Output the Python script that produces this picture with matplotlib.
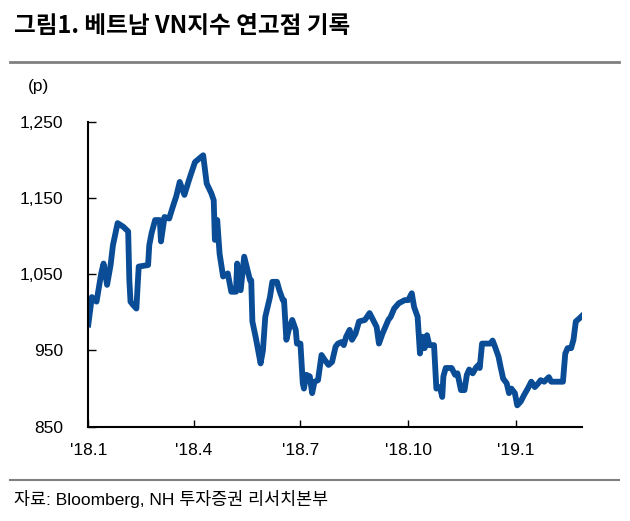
import matplotlib.pyplot as plt
import matplotlib.dates as mdates
import pandas as pd

# VN지수 (값은 그림에서 읽은 추정치)
dates = [
    "2018-01-01", "2018-01-04", "2018-01-08", "2018-01-12", "2018-01-14", "2018-01-17",
    "2018-01-20", "2018-01-22", "2018-01-26", "2018-01-31", "2018-02-04", "2018-02-05",
    "2018-02-06", "2018-02-08", "2018-02-11", "2018-02-13", "2018-02-21", "2018-02-22",
    "2018-02-24", "2018-02-27", "2018-03-03", "2018-03-04", "2018-03-07", "2018-03-11",
    "2018-03-14", "2018-03-17", "2018-03-20", "2018-03-24", "2018-03-28", "2018-04-02",
    "2018-04-09", "2018-04-12", "2018-04-16", "2018-04-18", "2018-04-19", "2018-04-21",
    "2018-04-23", "2018-04-26", "2018-04-30", "2018-05-03", "2018-05-07", "2018-05-08",
    "2018-05-11", "2018-05-14", "2018-05-19", "2018-05-20", "2018-05-21", "2018-05-24",
    "2018-05-28", "2018-05-30", "2018-06-01", "2018-06-05", "2018-06-07", "2018-06-11",
    "2018-06-13", "2018-06-16", "2018-06-17", "2018-06-19", "2018-06-21", "2018-06-24",
    "2018-06-27", "2018-06-28", "2018-07-01", "2018-07-03", "2018-07-04", "2018-07-06",
    "2018-07-09", "2018-07-11", "2018-07-13", "2018-07-16", "2018-07-19", "2018-07-22",
    "2018-07-25", "2018-07-28", "2018-07-31", "2018-08-02", "2018-08-05", "2018-08-07",
    "2018-08-09", "2018-08-12", "2018-08-14", "2018-08-17", "2018-08-20", "2018-08-25",
    "2018-08-29", "2018-09-01", "2018-09-04", "2018-09-06", "2018-09-09", "2018-09-14",
    "2018-09-16", "2018-09-19", "2018-09-23", "2018-09-28", "2018-10-01", "2018-10-04",
    "2018-10-06", "2018-10-09", "2018-10-11", "2018-10-13", "2018-10-15", "2018-10-17",
    "2018-10-19", "2018-10-23", "2018-10-25", "2018-10-28", "2018-10-30", "2018-10-31",
    "2018-11-02", "2018-11-07", "2018-11-10", "2018-11-12", "2018-11-15", "2018-11-18",
    "2018-11-20", "2018-11-22", "2018-11-25", "2018-11-28", "2018-11-30", "2018-12-01",
    "2018-12-03", "2018-12-10", "2018-12-12", "2018-12-14", "2018-12-17", "2018-12-19",
    "2018-12-21", "2018-12-24", "2018-12-26", "2018-12-28", "2018-12-31", "2019-01-02",
    "2019-01-05", "2019-01-08", "2019-01-11", "2019-01-14", "2019-01-17", "2019-01-20",
    "2019-01-22", "2019-01-25", "2019-01-29", "2019-01-31", "2019-02-10", "2019-02-12",
    "2019-02-14", "2019-02-17", "2019-02-19", "2019-02-21", "2019-02-24", "2019-02-26",
]
vn_index = [
    984, 1020, 1014, 1051, 1064, 1036,
    1062, 1088, 1117, 1112, 1106, 1042,
    1014, 1010, 1005, 1060, 1062, 1088,
    1104, 1121, 1121, 1093, 1125, 1123,
    1138, 1152, 1171, 1154, 1174, 1197,
    1206, 1169, 1156, 1147, 1095, 1121,
    1077, 1047, 1051, 1027, 1027, 1064,
    1029, 1073, 1042, 1042, 988, 966,
    933, 950, 994, 1020, 1040, 1040,
    1029, 1016, 1016, 964, 977, 990,
    977, 959, 959, 907, 900, 918,
    916, 894, 909, 911, 944, 937,
    931, 935, 955, 959, 961, 957,
    968, 977, 964, 972, 988, 990,
    999, 990, 981, 959, 972, 990,
    994, 1005, 1012, 1016, 1016, 1025,
    1007, 994, 946, 968, 953, 970,
    957, 957, 900, 902, 889, 916,
    927, 927, 918, 920, 898, 898,
    918, 925, 920, 928, 931, 927,
    959, 959, 963, 955, 942, 927,
    913, 907, 894, 900, 894, 878,
    883, 892, 900, 909, 902, 907,
    911, 909, 915, 909, 909, 946,
    953, 953, 964, 988, 992, 995,
]
tick_dates = ["2018-01-01", "2018-04-01", "2018-07-01", "2018-10-01", "2019-01-01"]
tick_labels = ["'18.1", "'18.4", "'18.7", "'18.10", "'19.1"]
y_ticks = [850, 950, 1050, 1150, 1250]

df = pd.DataFrame({'date': pd.to_datetime(dates), 'vn': vn_index})

plt.rcParams['font.family'] = ['Liberation Sans', 'Noto Sans CJK KR']

fig = plt.figure(figsize=(6.3, 5.21), dpi=100)
ax = fig.add_axes([0.1402, 0.181, 0.7831, 0.5854])

ax.plot(df['date'], df['vn'], color='#0a4d96', linewidth=4.2, solid_joinstyle='round')

ax.set_xlim(pd.Timestamp("2018-01-01"), pd.Timestamp("2019-02-26"))
ax.set_ylim(850, 1250)
ax.set_yticks(y_ticks)
ax.set_yticklabels([f"{v:,}" for v in y_ticks])
ax.set_xticks(pd.to_datetime(tick_dates))
ax.set_xticklabels(tick_labels)

for s in ['top', 'right']:
    ax.spines[s].set_visible(False)
for s in ['left', 'bottom']:
    ax.spines[s].set_linewidth(1.5)
ax.tick_params(axis='y', direction='in', length=6, width=1, labelsize=12.5, pad=18)
ax.tick_params(axis='x', direction='in', length=5, width=1, labelsize=12.5, pad=12)

# 제목, 단위, 출처
fig.text(14 / 630, 1 - 26 / 521, "그림1. 베트남 VN지수 연고점 기록", fontsize=17,
         fontweight='bold', family=['Noto Sans CJK KR'], ha='left', va='center')
fig.add_artist(plt.Line2D([10 / 630, 619 / 630], [1 - 62 / 521, 1 - 62 / 521],
                          color='#808080', linewidth=2))
fig.text(28 / 630, 1 - 87 / 521, "(p)", fontsize=12.5, ha='left', va='center')
fig.add_artist(plt.Line2D([10 / 630, 619 / 630], [1 - 480 / 521, 1 - 480 / 521],
                          color='#808080', linewidth=1.5))
fig.text(14 / 630, 1 - 499 / 521, "자료: Bloomberg, NH 투자증권 리서치본부", fontsize=12.5,
         ha='left', va='center')

fig.savefig('out.png', dpi=100)
